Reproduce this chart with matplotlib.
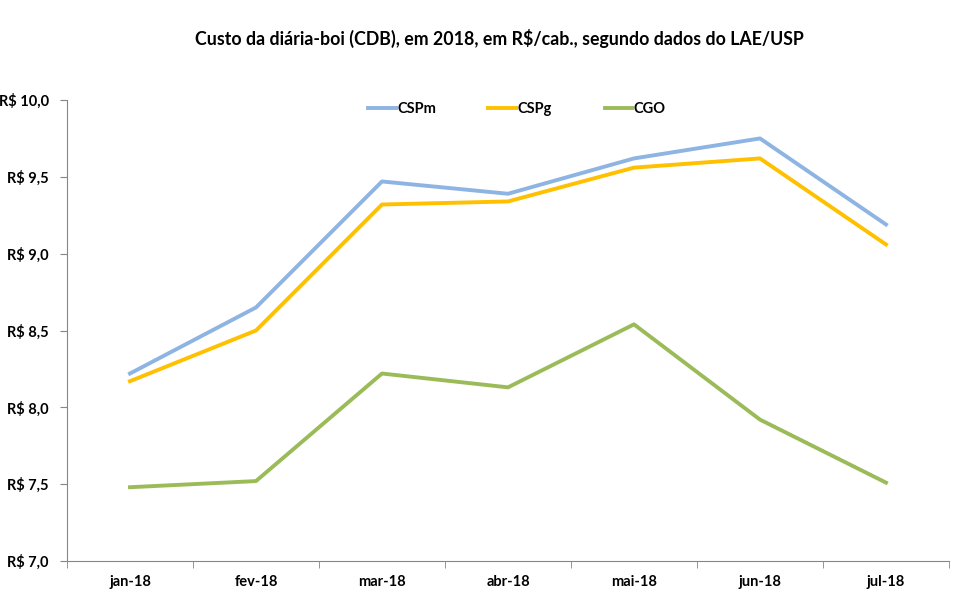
import matplotlib
matplotlib.use("Agg")
import matplotlib.pyplot as plt
import numpy as np

plt.rcParams['font.family'] = ['Lato', 'DejaVu Sans']

# dados
meses = ["jan-18", "fev-18", "mar-18", "abr-18", "mai-18", "jun-18", "jul-18"]
cspm = [8.22, 8.65, 9.47, 9.39, 9.62, 9.75, 9.19]
cspg = [8.17, 8.50, 9.32, 9.34, 9.56, 9.62, 9.06]
cgo = [7.48, 7.52, 8.22, 8.13, 8.54, 7.92, 7.51]
yticks = [7.0, 7.5, 8.0, 8.5, 9.0, 9.5, 10.0]

fig = plt.figure(figsize=(9.61, 5.94), dpi=100)
ax = fig.add_axes([0.0697, 0.0556, 0.9178, 0.776])

x = np.arange(len(meses))
ax.plot(x, cspm, color="#8EB4E3", lw=2.8, label="CSPm")
ax.plot(x, cspg, color="#FFC000", lw=2.8, label="CSPg")
ax.plot(x, cgo, color="#9BBB59", lw=2.8, label="CGO")

ax.set_xlim(-0.5, len(meses) - 0.5)
ax.set_ylim(7.0, 10.0)
ax.set_yticks(yticks)
ax.set_yticklabels(["R$ " + f"{v:.1f}".replace(".", ",") for v in yticks],
                   fontsize=10.5, fontweight="bold")
ax.set_xticks(x)
ax.set_xticklabels(meses, fontsize=10.5, fontweight="bold")
ax.set_xticks(np.arange(-0.5, len(meses)), minor=True)
ax.tick_params(axis="x", which="major", length=0, pad=10)
ax.tick_params(axis="x", which="minor", length=5, color="#868686")
ax.tick_params(axis="y", length=5, color="#868686", pad=8)

for s in ["top", "right"]:
    ax.spines[s].set_visible(False)
for s in ["left", "bottom"]:
    ax.spines[s].set_color("#868686")

ax.legend(loc="upper center", bbox_to_anchor=(0.51, 1.025), ncol=3, frameon=False,
          handlelength=1.9, handletextpad=0.1, columnspacing=3.6,
          prop={"weight": "bold", "size": 10.5})

fig.text(0.52, 0.935, "Custo da diária-boi (CDB), em 2018, em R$/cab., segundo dados do LAE/USP",
         ha="center", va="center", fontsize=12.8, fontweight="bold")

fig.savefig("out.png", dpi=100)
